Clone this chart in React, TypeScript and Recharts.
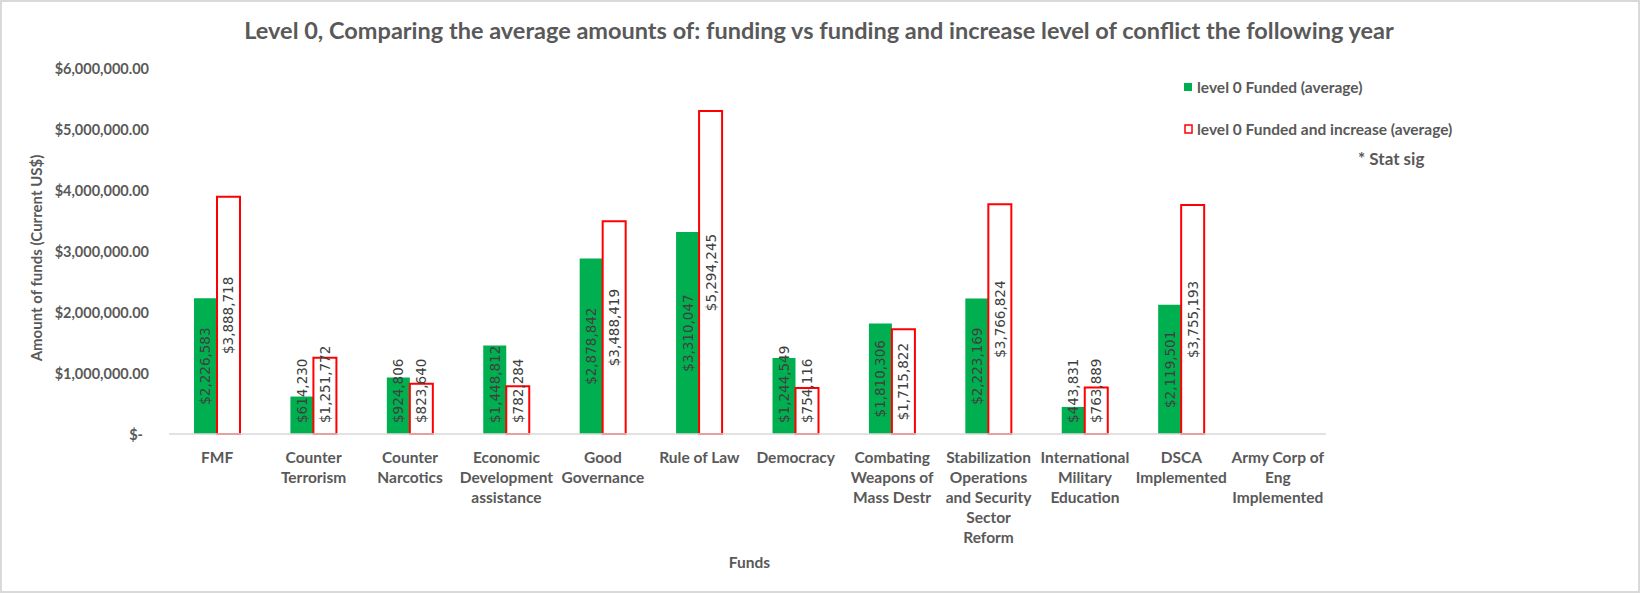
import React from 'react';
import { BarChart, Bar, XAxis, YAxis, LabelList, Label } from 'recharts';

// category names, split the way the axis wraps them
const categoryLines: string[][] = [
  ['FMF'],
  ['Counter', 'Terrorism'],
  ['Counter', 'Narcotics'],
  ['Economic', 'Development', 'assistance'],
  ['Good', 'Governance'],
  ['Rule of Law'],
  ['Democracy'],
  ['Combating', 'Weapons of', 'Mass Destr'],
  ['Stabilization', 'Operations', 'and Security', 'Sector', 'Reform'],
  ['International', 'Military', 'Education'],
  ['DSCA', 'Implemented'],
  ['Army Corp of', 'Eng', 'Implemented'],
];
const categories = categoryLines.map((l) => l.join(' '));

const funded: (number | null)[] = [
  2226583, 614230, 924806, 1448812, 2878842, 3310047, 1244549, 1810306, 2223169, 443831, 2119501, null,
];
const fundedIncrease: (number | null)[] = [
  3888718, 1251772, 823640, 782284, 3488419, 5294245, 754116, 1715822, 3766824, 763889, 3755193, null,
];
const yTicks = [0, 1000000, 2000000, 3000000, 4000000, 5000000, 6000000];

const data = categories.map((name, i) => ({
  name,
  funded: funded[i],
  increase: fundedIncrease[i],
}));

const GREY = '#595959';
const FONT = 'Lato, "Open Sans", sans-serif';

const fmtTick = (v: number) =>
  '$' + v.toLocaleString('en-US', { minimumFractionDigits: 2, maximumFractionDigits: 2 });

const YTick = (props: any) => {
  const { x, y, payload } = props;
  const zero = payload.value === 0;
  return (
    <text
      x={x}
      y={y}
      dx={zero ? -6 : 0}
      textAnchor="end"
      dominantBaseline="central"
      fill={GREY}
      fontSize={14.5}
      fontWeight="bold"
      fontFamily={FONT}
    >
      {zero ? '$-' : fmtTick(payload.value)}
    </text>
  );
};

const XTick = (props: any) => {
  const { x, y, payload } = props;
  const lines = categoryLines[payload.index] ?? [String(payload.value)];
  return (
    <g>
      {lines.map((line, i) => (
        <text
          key={i}
          x={x}
          y={y + 23 + i * 20}
          textAnchor="middle"
          dominantBaseline="central"
          fill={GREY}
          fontSize={15.5}
          fontWeight="bold"
          fontFamily={FONT}
        >
          {line}
        </text>
      ))}
    </g>
  );
};

// rough DejaVu Sans width, used to keep rotated labels off the axis like Excel does
const labelLen = (s: string, fs: number) =>
  s.split('').reduce((a, c) => a + (c === ',' || c === '.' ? 0.318 : 0.636), 0) * fs;

const LABEL_FS = 13.5;

const BarValueLabel = (props: any) => {
  const { value } = props;
  if (value == null) return null;
  const vb = props.viewBox ?? props;
  const x = Number(vb.x);
  const y = Number(vb.y);
  const w = Number(vb.width);
  const h = Number(vb.height);
  const text = '$' + Number(value).toLocaleString('en-US');
  const len = labelLen(text, LABEL_FS);
  const cx = x + w / 2;
  const bottom = y + h;
  let cy = y + h / 2;
  if (cy + len / 2 > bottom - 11) cy = bottom - 11 - len / 2;
  return (
    <text
      x={cx}
      y={cy}
      transform={`rotate(-90 ${cx} ${cy})`}
      textAnchor="middle"
      dominantBaseline="central"
      fill="#404040"
      fontSize={LABEL_FS}
      fontFamily="DejaVu Sans"
    >
      {text}
    </text>
  );
};

export default function App() {
  return (
    <div
      style={{
        position: 'absolute',
        left: 0,
        top: 0,
        width: 1640,
        height: 593,
        background: '#fff',
        boxSizing: 'border-box',
        border: '2px solid #d9d9d9',
        overflow: 'hidden',
      }}
    >
      <div style={{ position: 'absolute', left: -2, top: -2 }}>
        <BarChart
          width={1640}
          height={593}
          data={data}
          margin={{ top: 68, right: 314, bottom: 0, left: 0 }}
          barGap={0}
          barSize={23}
        >
          <XAxis
            dataKey="name"
            height={159}
            interval={0}
            tickLine={false}
            tickSize={0}
            tickMargin={0}
            axisLine={{ stroke: '#d9d9d9', strokeWidth: 1.5 }}
            tick={<XTick />}
          >
            <Label
              content={(p: any) => {
                const vb = p.viewBox;
                return (
                  <text
                    x={vb.x + vb.width / 2 + 2}
                    y={vb.y + 128}
                    textAnchor="middle"
                    dominantBaseline="central"
                    fill={GREY}
                    fontSize={15.5}
                    fontWeight="bold"
                    fontFamily={FONT}
                  >
                    Funds
                  </text>
                );
              }}
            />
          </XAxis>
          <YAxis
            width={169}
            domain={[0, 6000000]}
            ticks={yTicks}
            axisLine={false}
            tickLine={false}
            tickSize={0}
            tickMargin={20}
            tick={<YTick />}
          >
            <Label
              content={(p: any) => {
                const vb = p.viewBox;
                const cx = vb.x + 36;
                const cy = vb.y + vb.height / 2 + 7;
                return (
                  <text
                    x={cx}
                    y={cy}
                    transform={`rotate(-90 ${cx} ${cy})`}
                    textAnchor="middle"
                    dominantBaseline="central"
                    fill={GREY}
                    fontSize={15}
                    fontWeight="bold"
                    fontFamily={FONT}
                  >
                    Amount of funds (Current US$)
                  </text>
                );
              }}
            />
          </YAxis>
          <Bar dataKey="funded" fill="#00B050" isAnimationActive={false}>
            <LabelList dataKey="funded" content={<BarValueLabel />} />
          </Bar>
          <Bar dataKey="increase" fill="#ffffff" stroke="#FF0000" strokeWidth={2} isAnimationActive={false}>
            <LabelList dataKey="increase" content={<BarValueLabel />} />
          </Bar>
        </BarChart>
        <svg
          width={1640}
          height={593}
          style={{ position: 'absolute', left: 0, top: 0, pointerEvents: 'none' }}
        >
          <text
            x={819}
            y={39}
            textAnchor="middle"
            fill={GREY}
            fontSize={23.5}
            fontWeight="bold"
            fontFamily={FONT}
          >
            Level 0, Comparing the average amounts of: funding vs funding and increase level of conflict the following year
          </text>
          <rect x={1184} y={83} width={8} height={8} fill="#00B050" />
          <text x={1197} y={87} dominantBaseline="central" fill={GREY} fontSize={15.5} fontWeight="bold" fontFamily={FONT}>
            level 0 Funded (average)
          </text>
          <rect x={1185} y={125} width={7} height={8} fill="#fff" stroke="#FF0000" strokeWidth={1.5} />
          <text x={1197} y={129} dominantBaseline="central" fill={GREY} fontSize={15.5} fontWeight="bold" fontFamily={FONT}>
            level 0 Funded and increase (average)
          </text>
          <text x={1358} y={158} dominantBaseline="central" fill={GREY} fontSize={17} fontWeight="bold" fontFamily={FONT}>
            *  Stat sig
          </text>
        </svg>
      </div>
    </div>
  );
}
